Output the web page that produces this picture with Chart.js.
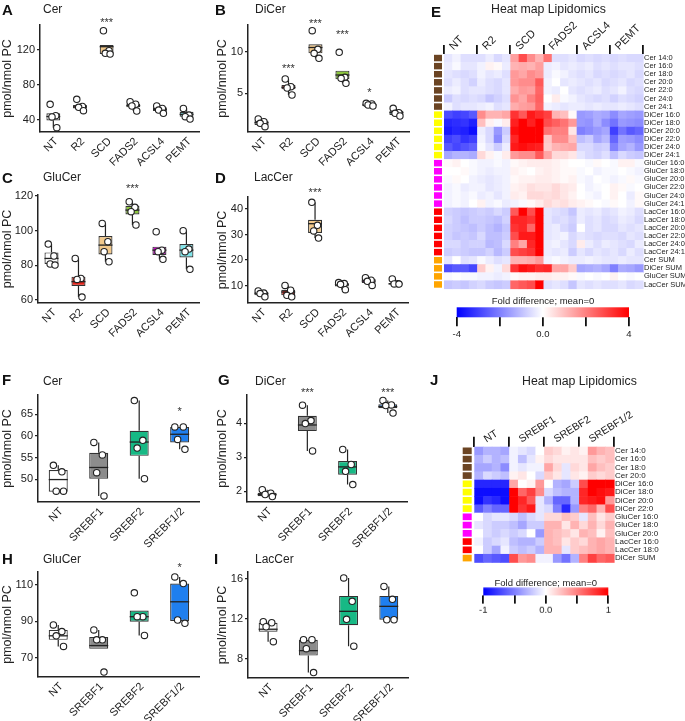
<!DOCTYPE html>
<html><head><meta charset="utf-8">
<script src="https://cdn.jsdelivr.net/npm/chart.js@4"></script>
<style>
body{margin:0;width:685px;height:721px;position:relative;background:#fff;overflow:hidden;font-family:"Liberation Sans",Arial,sans-serif;color:#222}
.t{position:absolute;white-space:nowrap;line-height:1}
.L{font-weight:bold;font-size:15px;color:#111}
.T{font-size:12px}
.H{font-size:12.3px}
.C{font-size:9.5px;transform:translateX(-50%)}
canvas{position:absolute}
</style></head><body>
<script>
// ---------------- DATA ----------------
const GROUPS_1 = ['NT','R2','SCD','FADS2','ACSL4','PEMT'];
const GROUPS_2 = ['NT','SREBF1','SREBF2','SREBF1/2'];
const Y_TITLE = 'pmol/nmol PC';
// box stats per group: [whiskerLow, q1, median, q3, whiskerHigh]
const A_BOX = [[31.2,39.5,44,47.6,47.6],[50.7,53.3,55,57.1,57.1],[115.4,115.4,123.8,125.7,125.7],[50.3,54.5,56.5,58.3,61],[47.6,50.3,52.2,54.5,56],[41.1,43.8,46.5,49.5,53.3]];
const A_PTS = [[57.9,45,43.5,31.2],[63.6,55.5,54.5,50.7],[142,119.2,116.2,115.4],[61,58,56,50.3],[56,53.3,51.4,47.6],[53.3,45.7,43.8,41.1]];
const A_SIG = ['','','***','','',''];
const A_SIG_AT = [0,0,154.3,0,0,0];
const A_TICKS = [40,80,120];
const B_BOX = [[1.0,1.2,1.48,1.72,1.92],[4.8,5.48,5.72,6.0,6.72],[9.2,9.8,10.5,10.88,10.88],[6.2,6.68,7.2,7.72,7.72],[3.48,3.45,3.6,3.78,3.8],[2.28,2.4,2.68,2.92,3.2]];
const B_PTS = [[1.92,1.6,1.4,1.0],[6.72,5.8,5.64,4.8],[12.52,10.28,9.8,9.2],[9.92,6.92,6.8,6.2],[3.8,3.72,3.6,3.48],[3.2,2.68,2.6,2.28]];
const B_SIG = ['','***','***','***','*',''];
const B_SIG_AT = [0,8.2,13.6,12.32,5.4,0];
const B_TICKS = [5,10];
const C_BOX = [[80.2,80.8,84,87.5,92.3],[61.7,68.1,70.6,73.5,84],[82.1,86.3,91.7,96.9,104.2],[103.3,109.4,111.9,114.4,116.7],[83.5,86,88.8,90.8,90.8],[77.7,84.6,88.8,92.3,100]];
const C_PTS = [[92.3,85.4,80.8,80.2],[84,72.5,71.9,61.7],[104.2,93.7,87.9,82.1],[116.7,113.5,111,103.3],[99.4,88.8,87.9,83.5],[100,89.4,87.9,77.7]];
const C_SIG = ['','','','***','',''];
const C_SIG_AT = [0,0,0,125.4,0,0];
const C_TICKS = [60,80,100,120];
const D_BOX = [[5.6,6.2,6.9,7.5,7.9],[5.6,6.2,7.5,8.4,10.1],[28.6,30.6,34.25,35.8,42.6],[8.4,9.7,10.4,11.0,11.2],[10.1,11.0,11.8,12.6,13.1],[10.6,10.5,10.65,11.0,12.6]];
const D_PTS = [[7.9,7.1,6.9,5.6],[10.1,8.2,6.2,5.6],[42.6,33.6,31.4,28.6],[11.2,10.8,10.5,8.4],[13.1,12.1,11.7,10.1],[12.6,10.7,10.65,10.6]];
const D_SIG = ['','','***','','',''];
const D_SIG_AT = [0,0,47.3,0,0,0];
const D_TICKS = [10,20,30,40];
const F_BOX = [[47.2,47.1,49.9,52.1,53.2],[46.1,50.1,52.7,56.1,58.5],[50.1,55.4,58.6,61.2,68.2],[56.9,58.5,60.4,62.1,62.1]];
const F_PTS = [[53.2,51.7,47.2,47.2],[58.5,55.6,51.5,46.1],[68.2,59,57.2,50.1],[62.1,62.1,59.2,56.9]];
const F_SIG = ['','','','*'];
const F_SIG_AT = [0,0,0,66.2];
const F_TICKS = [50,55,60,65];
const G_BOX = [[1.85,1.86,1.91,1.96,2.05],[3.19,3.77,3.95,4.22,4.53],[2.2,2.49,2.72,2.89,3.23],[4.3,4.44,4.49,4.56,4.67]];
const G_PTS = [[2.05,1.95,1.91,1.85],[4.53,4.08,3.99,3.19],[3.23,2.79,2.59,2.2],[4.67,4.54,4.52,4.3]];
const G_SIG = ['','***','','***'];
const G_SIG_AT = [0,4.97,0,4.97];
const G_TICKS = [2,3,4];
const H_BOX = [[76.3,79.9,82.1,85.3,88],[75,75,76.8,81.4,85.3],[82.3,89.8,92.5,95.8,95.8],[88.9,90.2,100.6,110.5,114.1]];
const H_PTS = [[88,84.4,82.1,76.3],[85.3,79.9,79.9,62.4],[105.5,92.5,92.5,82.3],[114.1,110.5,90.7,88.9]];
const H_SIG = ['','','','*'];
const H_SIG_AT = [0,0,0,120.1];
const H_TICKS = [70,90,110];
const I_BOX = [[9.7,10.7,10.95,11.6,11.7],[6.6,8.3,8.8,9.9,9.9],[9.25,11.35,12.75,14.3,16.1],[11.9,11.9,13.25,14.3,15.25]];
const I_PTS = [[11.7,11.6,11.2,9.7],[9.9,9.9,9.0,6.6],[16.1,13.75,11.95,9.25],[15.25,13.95,11.9,11.9]];
const I_SIG = ['','','',''];
const I_SIG_AT = [0,0,0,0];
const I_TICKS = [8,12,16];

// heat map E
const HM1_GROUPS = ['NT','R2','SCD','FADS2','ACSL4','PEMT'];
const HM1_ROWS = ['Cer 14:0','Cer 16:0','Cer 18:0','Cer 20:0','Cer 22:0','Cer 24:0','Cer 24:1',
 'DiCer 16:0','DiCer 18:0','DiCer 20:0','DiCer 22:0','DiCer 24:0','DiCer 24:1',
 'GluCer 16:0','GluCer 18:0','GluCer 20:0','GluCer 22:0','GluCer 24:0','GluCer 24:1',
 'LacCer 16:0','LacCer 18:0','LacCer 20:0','LacCer 22:0','LacCer 24:0','LacCer 24:1',
 'Cer SUM','DiCer SUM','GluCer SUM','LacCer SUM'];
const HM1_CLASS = ['Cer','Cer','Cer','Cer','Cer','Cer','Cer','DiCer','DiCer','DiCer','DiCer','DiCer','DiCer',
 'GluCer','GluCer','GluCer','GluCer','GluCer','GluCer','LacCer','LacCer','LacCer','LacCer','LacCer','LacCer','SUM','SUM','SUM','SUM'];
const HM1_VALUES = [
 [-0.4,-0.2,-0.5,-0.5, -0.5,-0.3,-0.6,-0.4, 1.5,2.8,1.8,1.2, 2.2,-0.5,-0.5,-0.4, -0.6,-0.5,-0.6,-0.5, -0.6,-0.5,-0.6,-0.6],
 [-0.3,-0.1,-0.4,-0.4, -0.2,0.2,0.1,-0.3, 1.2,1.3,1.2,1.5, -0.3,-0.2,-0.4,-0.3, -0.4,-0.3,-0.5,-0.4, -0.5,-0.4,-0.4,-0.5],
 [-0.4,-0.5,-0.6,-0.5, -0.2,-0.4,-0.3,-0.5, 1.6,1.4,1.8,1.6, -0.3,-0.1,-0.2,-0.4, -0.5,-0.4,-0.6,-0.5, -0.6,-0.5,-0.4,-0.6],
 [-0.5,-0.3,-0.5,-0.7, -0.3,-0.5,-0.6,-0.4, 1.6,1.8,1.8,2.6, -0.2,0.0,-0.4,-0.3, -0.4,-0.5,-0.4,-0.6, -0.5,-0.4,-0.6,-0.5],
 [-0.3,-0.2,-0.5,-0.4, -0.4,-0.5,-0.6,-0.4, 1.3,1.6,1.5,2.4, -0.2,-0.3,0.0,-0.4, -0.5,-0.4,-0.3,-0.5, -0.4,-0.2,-0.5,-0.6],
 [-0.8,-0.5,-0.6,-0.5, -0.6,-0.9,-0.7,-0.5, 1.7,1.4,2.0,2.5, 0.0,0.3,-0.1,-0.2, -0.4,-0.5,-0.6,-0.5, -0.7,-0.5,-0.6,-0.7],
 [-0.2,-0.5,-0.4,-0.4, -0.3,-0.2,-0.5,-0.4, 1.3,1.5,1.6,2.4, -0.2,-0.3,-0.4,-0.3, -0.3,-0.4,-0.3,-0.4, -0.4,-0.3,-0.4,-0.5],
 [-2.8,-3.0,-2.9,-2.6, 1.8,1.2,1.2,1.4, 3.2,2.6,3.6,3.3, 3.0,1.2,1.0,0.1, -1.6,-1.5,-1.3,-1.4, -1.8,-1.4,-1.5,-1.6],
 [-3.4,-3.3,-3.2,-3.5, 1.0,0.2,-0.1,0.3, 3.5,4,3.5,4, 2.8,2.5,2.2,1.6, -1.6,-1.7,-1.3,-1.8, -2.2,-1.6,-1.7,-1.8],
 [-3.6,-3.4,-3.5,-3.8, -0.3,-0.6,-1.6,-0.8, 3.8,4,4,4, 2.2,2.0,2.0,0.4, -2.0,-1.8,-1.6,-1.4, -3.0,-2.2,-2.6,-2.4],
 [-3.0,-2.8,-3.2,-3.0, -0.2,-0.6,-1.8,-0.6, 3.4,4,4,4, 0.9,1.8,1.8,1.0, -1.0,-0.8,-1.4,-1.1, -2.4,-1.5,-1.6,-1.8],
 [-2.6,-2.9,-2.7,-2.5, -0.1,-0.4,-0.8,-0.3, 3.6,3.8,3.6,3.5, 0.8,1.2,1.3,1.4, -0.6,-0.6,-0.8,-0.7, -2.0,-1.4,-1.2,-1.6],
 [-1.4,-1.2,-1.2,-1.3, 0.6,0.2,-0.1,0.3, 1.6,1.8,1.8,2.6, 1.4,0.6,0.6,0.4, -0.4,-0.6,-0.7,-0.5, -1.0,-0.6,-0.8,-0.9],
 [0.1,0.2,0.0,-0.1, -0.2,-0.2,-0.1,-0.2, 0.1,0.2,0.3,0.3, 0.3,0.2,0.1,0.0, 0.0,-0.1,0.1,0.0, -0.1,0.2,0.2,-0.1],
 [0.0,0.0,0.1,-0.1, -0.2,-0.3,-0.2,-0.2, 0.2,0.1,0.0,0.2, 0.3,0.2,0.1,0.1, -0.1,0.0,-0.2,-0.1, -0.1,0.0,-0.1,-0.2],
 [-0.1,0.1,0.0,-0.2, -0.3,-0.4,-0.3,-0.2, 0.1,0.2,0.2,0.3, 0.3,0.2,0.1,0.2, -0.1,-0.2,0.0,-0.1, -0.2,-0.1,0.1,-0.1],
 [-0.2,-0.1,-0.3,-0.2, -0.2,-0.4,-0.3,-0.2, 0.2,0.3,0.5,0.4, 0.4,0.6,0.4,0.3, 0.0,-0.2,-0.1,0.0, 0.2,0.1,-0.1,0.0],
 [-0.2,-0.1,-0.2,-0.1, -0.3,-0.2,-0.4,-0.2, 0.3,0.2,0.6,0.6, 0.5,0.6,0.4,0.2, 0.0,-0.1,-0.2,0.0, 0.2,0.0,-0.3,0.1],
 [-0.2,-0.1,-0.2,0.0, 0.2,-0.2,-0.1,-0.3, -0.2,-0.1,0.1,0.3, 0.6,0.4,0.5,0.3, 0.2,0.1,0.0,-0.1, 0.1,0.0,-0.2,0.1],
 [-0.7,-0.8,-0.9,-0.8, -0.7,-0.8,-0.6,-0.8, 2.6,4,2.8,4, -0.4,-0.5,-0.6,-0.9, -0.3,-0.4,-0.3,-0.5, -0.4,-0.2,-0.3,-0.5],
 [-0.6,-0.8,-1.0,-0.8, -0.8,-0.9,-1.0,-0.7, 3.4,3.4,3.2,4, -0.4,-0.6,-0.5,-0.7, -0.3,-0.5,-0.4,-0.6, -0.5,-0.3,-0.4,-0.6],
 [-0.7,-0.8,-0.9,-1.0, -0.8,-1.0,-1.2,-0.9, 3.2,3.4,2.4,4, -0.4,-0.3,-0.6,-0.8, 0.0,-0.5,-0.4,-0.6, -0.6,-0.4,-0.5,-0.4],
 [-0.7,-0.9,-0.8,-0.9, -0.6,-1.0,-1.0,-0.8, 2.8,3.6,3.6,4, -0.4,-0.3,-0.2,-0.6, -0.4,-0.5,-0.6,-0.5, -0.5,-0.6,-0.4,-0.5],
 [-0.6,-0.6,-0.8,-0.7, -0.7,-1.1,-1.0,-0.6, 2.0,1.4,3.4,4, -0.3,-0.2,-0.4,-0.6, 0.3,-0.3,-0.5,-0.3, -0.4,-0.5,-0.6,-0.3],
 [-0.8,-0.7,-0.8,-0.9, -0.9,-0.7,-1.1,-0.8, 2.8,3.0,3.2,4, -0.3,-0.4,-0.3,-0.8, -0.4,-0.6,-0.4,-0.5, -0.4,-0.6,-0.3,-0.5],
 [-0.4,0.0,-0.5,-0.4, -0.1,-0.3,-0.5,-0.4, 1.2,1.2,1.3,1.6, -0.2,-0.1,-0.2,-0.3, -0.3,-0.2,-0.3,-0.4, -0.4,-0.3,-0.4,-0.4],
 [-2.8,-2.6,-2.6,-2.9, 0.8,0.2,-0.2,0.6, 3.2,3.8,3.6,3.3, 3.4,1.4,1.4,0.8, -1.4,-1.3,-1.2,-1.4, -2.0,-1.3,-1.4,-1.6],
 [-0.1,0.0,-0.1,-0.1, -0.2,-0.2,-0.3,-0.2, 0.1,0.2,0.2,0.3, 0.3,0.2,0.2,0.1, -0.1,0.0,-0.1,0.0, 0.2,0.0,-0.1,0.0],
 [-0.9,-0.8,-0.9,-0.7, -0.6,-0.8,-0.9,-0.8, 2.4,2.6,2.8,4, -0.5,-0.4,-0.5,-0.9, -0.4,-0.5,-0.4,-0.5, -0.5,-0.4,-0.6,-0.5]
];
const HM1_RANGE = 4;
const CB1_TICKS = [-4,-2,0,2,4];
const CB1_LABELS = ['-4','','0.0','','4'];

// heat map J
const HM2_GROUPS = ['NT','SREBF1','SREBF2','SREBF1/2'];
const HM2_ROWS = ['Cer 14:0','Cer 16:0','Cer 18:0','Cer 20:0','DiCer 16:0','DiCer 18:0','DiCer 20:0','DiCer 22:0',
 'GluCer 16:0','GluCer 18:0','GluCer 20:0','LacCer 16:0','LacCer 18:0','DiCer SUM'];
const HM2_CLASS = ['Cer','Cer','Cer','Cer','DiCer','DiCer','DiCer','DiCer','GluCer','GluCer','GluCer','LacCer','LacCer','SUM'];
const HM2_VALUES = [
 [-0.4,-0.3,-0.3,-0.35, -0.05,-0.1,-0.15,0.0, 0.2,0.15,0.05,0.1, 0.05,0.4,0.3,0.25],
 [-0.3,-0.2,-0.3,-0.25, -0.05,-0.25,-0.1,0.05, 0.15,0.1,0.1,0.1, 0.1,0.25,0.2,0.25],
 [-0.35,-0.35,-0.3,-0.45, -0.05,-0.1,-0.05,-0.05, 0.35,0.15,-0.1,0.15, 0.1,0.35,0.25,0.2],
 [-0.3,-0.15,-0.2,-0.25, 0.05,0.1,0.0,-0.15, 0.2,0.1,-0.1,0.1, 0.05,0.2,0.15,0.2],
 [-0.85,-0.85,-0.85,-0.85, 0.35,0.0,0.05,0.4, 0.0,-0.3,-0.35,-0.2, 0.7,1,1,1],
 [-0.95,-0.95,-0.95,-0.95, 1,0.6,0.75,0.45, -0.15,-0.25,-0.3,-0.3, 0.85,1,0.95,0.9],
 [-0.95,-0.8,-0.85,-0.95, 1,0.85,0.65,-0.1, -0.3,-0.6,-0.6,-0.3, 0.85,0.9,0.95,0.4],
 [-0.65,-0.5,-0.6,-0.6, 1,0.8,0.9,-0.1, -0.15,-0.5,-0.85,-0.4, 0.5,0.6,0.3,0.7],
 [0.0,-0.15,-0.1,-0.1, -0.15,-0.25,-0.15,-0.1, 0.15,0.15,0.25,0.2, -0.1,0.25,0.1,0.2],
 [-0.1,-0.15,-0.2,-0.2, -0.25,-0.35,-0.2,-0.2, 0.3,0.3,0.1,0.3, 0.15,0.3,0.15,0.3],
 [0.0,-0.15,-0.2,-0.15, -0.2,-0.15,0.0,-0.4, 0.3,0.25,0.2,0.1, 0.3,0.25,0.05,0.25],
 [-0.05,-0.2,-0.15,-0.1, -0.25,-0.3,-0.3,-0.2, 0.3,0.25,0.1,0.2, 0.15,0.3,0.35,0.3],
 [0.0,-0.2,-0.35,-0.05, -0.2,-0.25,-0.2,-0.3, 0.3,0.3,-0.1,0.2, 0.25,0.3,0.35,0.3],
 [-0.7,-0.6,-0.65,-0.7, 0.7,0.4,0.45,-0.05, -0.05,-0.4,-0.55,-0.3, 0.5,0.75,0.6,0.65]
];
const HM2_RANGE = 1;
const CB2_TICKS = [-1,-0.5,0,0.5,1];
const CB2_LABELS = ['-1','','0.0','','1'];

// ---------------- STYLE ----------------
const COLORS_1 = ['#ffffff','#e8261c','#f2c98b','#8cc63e','#cc00cc','#7fe5ea'];
const COLORS_2 = ['#ffffff','#8c8c8c','#17b985','#1f7fef'];
const CLASS_COLORS = {Cer:'#6b4423', DiCer:'#ffff00', GluCer:'#ff00ff', LacCer:'#ff0000', SUM:'#ffa500'};
const JITTER = [-0.12, 0.09, -0.05, 0.13];
const FONT = '"Liberation Sans", Arial, sans-serif';
Chart.defaults.font.family = FONT;
Chart.defaults.color = '#222';

function makeCanvas(L,T,W,H){
  const c = document.createElement('canvas');
  c.width = W; c.height = H;
  c.style.left = L+'px'; c.style.top = T+'px'; c.style.width = W+'px'; c.style.height = H+'px';
  document.body.appendChild(c); return c;
}
function text(str, cls, left, top){
  const d = document.createElement('div'); d.className = 't '+cls; d.textContent = str;
  d.style.left = left+'px'; d.style.top = top+'px'; document.body.appendChild(d);
}

function boxPlugin(d){
  return {
    id:'boxdecor',
    afterDatasetDraw(chart, args){
      if (args.index !== 0) return;
      const ctx = chart.ctx, y = chart.scales.y, meta = chart.getDatasetMeta(0);
      const py = v => y.getPixelForValue(v);
      ctx.save(); ctx.strokeStyle = '#222';
      meta.data.forEach((bar,i)=>{
        const b = d.box[i], cx = bar.x, hw = bar.width/2;
        ctx.lineWidth = 1.2; ctx.beginPath();
        ctx.moveTo(cx, py(b[3])); ctx.lineTo(cx, py(b[4]));
        ctx.moveTo(cx, py(b[1])); ctx.lineTo(cx, py(b[0]));
        ctx.stroke();
        ctx.lineWidth = 1.3; ctx.beginPath();
        ctx.moveTo(cx-hw, py(b[2])); ctx.lineTo(cx+hw, py(b[2])); ctx.stroke();
      });
      ctx.restore();
    },
    afterDraw(chart){
      const ctx = chart.ctx, y = chart.scales.y, meta = chart.getDatasetMeta(0);
      ctx.save(); ctx.fillStyle = '#333'; ctx.font = '11px '+FONT; ctx.textAlign = 'center'; ctx.textBaseline = 'middle';
      meta.data.forEach((bar,i)=>{ if (d.sig[i]) ctx.fillText(d.sig[i], bar.x, y.getPixelForValue(d.sigAt[i]) + 2.5); });
      ctx.restore();
    }
  };
}

function boxPanel(g, d){
  const n = d.labels.length;
  const cv = makeCanvas(g.L, g.T, g.W, g.H);
  const pts = [];
  d.pts.forEach((arr,i)=>arr.forEach((v,j)=>pts.push({x:i+JITTER[j], y:v})));
  new Chart(cv, {
    type:'bar',
    data:{datasets:[
      {type:'bar', data:d.box.map((b,i)=>({x:i, y:[b[1],b[3]]})), backgroundColor:d.colors, borderColor:'#333', borderWidth:1.2,
       borderSkipped:false, grouped:false, barPercentage:g.bw, categoryPercentage:1, order:2},
      {type:'scatter', data:pts, pointRadius:3.2, pointBackgroundColor:'#fff',
       pointBorderColor:'#222', pointBorderWidth:1.1, order:1}
    ]},
    options:{
      responsive:false, animation:false, events:[],
      layout:{padding:{left:0, right:g.pr, top:g.pt, bottom:0}},
      plugins:{legend:{display:false}, tooltip:{enabled:false}},
      scales:{
        x:{type:'linear', min:-0.5, max:n-0.5, offset:false,
           afterBuildTicks(s){ s.ticks = d.labels.map((l,i)=>({value:i})); },
           grid:{display:false, drawTicks:false},
           border:{display:true, color:'#222', width:1.5},
           ticks:{autoSkip:false, minRotation:45, maxRotation:45, padding:3, labelOffset:3, font:{size:11}, color:'#222',
                  callback:(v)=>d.labels[Math.round(v)]},
           afterFit(s){ s.height = g.xh; }},
        y:{type:'linear', min:d.min, max:d.max,
           afterBuildTicks(s){ s.ticks = d.ticks.map(v=>({value:v})); },
           grid:{display:true, drawOnChartArea:false, drawTicks:true, tickLength:3, color:'#222', lineWidth:1.2},
           border:{display:true, color:'#222', width:1.5},
           ticks:{padding:2, font:{size:11}, color:'#222'},
           title:{display:true, text:Y_TITLE, font:{size:12.5}, color:'#222', padding:{top:0, bottom:0}},
           afterFit(s){ s.width = g.yw; }}
      }
    },
    plugins:[boxPlugin(d)]
  });
}

function heatColor(v, m){
  const t = Math.max(-1, Math.min(1, v/m));
  if (t < 0){ const c = Math.round(255*(1+t)); return `rgb(${c},${c},255)`; }
  const c = Math.round(255*(1-t)); return `rgb(255,${c},${c})`;
}
function heatPlugin(d, g){
  return {
    id:'heat',
    beforeDatasetsDraw(chart){
      const {ctx, chartArea:a, scales:{x, y}} = chart;
      const band = a.height / d.rows.length;
      d.values.forEach((row,r)=>{
        const yc = y.getPixelForValue(r);
        row.forEach((v,c)=>{
          const x0 = x.getPixelForValue(c), x1 = x.getPixelForValue(c+1);
          ctx.fillStyle = heatColor(v, d.range);
          ctx.fillRect(x0, yc-band/2, x1-x0+0.6, band+0.6);
        });
        ctx.fillStyle = CLASS_COLORS[d.cls[r]];
        ctx.fillRect(a.left - g.sqOff, yc - band/2 + 0.8, g.sqW, band - 1.6);
      });
    }
  };
}
function heatPanel(g, d){
  const cv = makeCanvas(g.L, g.T, g.W, g.H);
  new Chart(cv, {type:'scatter', data:{datasets:[]}, options:{
    responsive:false, animation:false, events:[],
    layout:{padding:{left:g.pl, right:0, top:g.pt, bottom:0}},
    plugins:{legend:{display:false}, tooltip:{enabled:false}},
    scales:{
      x:{type:'linear', display:false, min:0, max:d.values[0].length},
      x2:{type:'category', labels:d.groups, position:'top', offset:true,
          grid:{display:true, offset:true, drawOnChartArea:false, drawTicks:true, tickLength:g.tl, color:'#111', lineWidth:1.8},
          border:{display:false},
          ticks:{autoSkip:false, minRotation:g.rot, maxRotation:g.rot, padding:g.lp, font:{size:g.gf}, color:'#222'},
          afterFit(s){ s.height = g.xh; }},
      y:{type:'category', labels:d.rows, position:'right', offset:true,
         grid:{display:false, drawTicks:false}, border:{display:false},
         ticks:{autoSkip:false, padding:1, font:{size:g.rf}, color:'#222'},
         afterFit(s){ s.width = g.yw; }}
    }}, plugins:[heatPlugin(d, g)]});
}
function colorbar(g, d){
  const cv = makeCanvas(g.L, g.T, g.W, g.H);
  new Chart(cv, {type:'scatter', data:{datasets:[]}, options:{
    responsive:false, animation:false, events:[],
    layout:{padding:{left:g.pl, right:g.pr, top:g.pt, bottom:0}},
    plugins:{legend:{display:false}, tooltip:{enabled:false}},
    scales:{
      x:{type:'linear', min:d.ticks[0], max:d.ticks[d.ticks.length-1],
         afterBuildTicks(s){ s.ticks = d.ticks.map(v=>({value:v})); },
         grid:{display:true, drawOnChartArea:false, drawTicks:true, tickLength:g.tl, color:'#111', lineWidth:1.8},
         border:{display:false},
         ticks:{autoSkip:false, maxRotation:0, padding:g.lp, font:{size:g.f}, color:'#222', callback:(v,i)=>d.labels[i]},
         afterFit(s){ s.height = g.xh; }},
      y:{display:false, min:0, max:1}
    }}, plugins:[{id:'grad', beforeDatasetsDraw(chart){
      const {ctx, chartArea:a, scales:{x}} = chart;
      const x0 = x.getPixelForValue(d.ticks[0]), x1 = x.getPixelForValue(d.ticks[d.ticks.length-1]);
      const gr = ctx.createLinearGradient(x0,0,x1,0);
      gr.addColorStop(0,'#0000ff'); gr.addColorStop(0.5,'#ffffff'); gr.addColorStop(1,'#ff0000');
      ctx.fillStyle = gr; ctx.fillRect(x0, a.top, x1-x0, a.bottom-a.top);
    }}]});
}

// ---------------- BUILD ----------------
boxPanel({L:0,T:0,W:205,H:182,yw:40,pr:5,pt:25,xh:50,bw:0.52},
  {labels:GROUPS_1, box:A_BOX, pts:A_PTS, sig:A_SIG, sigAt:A_SIG_AT, ticks:A_TICKS, min:26.3, max:148.6, colors:COLORS_1});
boxPanel({L:215,T:0,W:200,H:182,yw:33,pr:5,pt:25,xh:50,bw:0.52},
  {labels:GROUPS_1, box:B_BOX, pts:B_PTS, sig:B_SIG, sigAt:B_SIG_AT, ticks:B_TICKS, min:0.36, max:13.2, colors:COLORS_1});
boxPanel({L:0,T:170,W:205,H:183,yw:38,pr:5,pt:25,xh:50,bw:0.52},
  {labels:GROUPS_1, box:C_BOX, pts:C_PTS, sig:C_SIG, sigAt:C_SIG_AT, ticks:C_TICKS, min:58.3, max:120.6, colors:COLORS_1});
boxPanel({L:215,T:170,W:199,H:183,yw:33,pr:5,pt:27,xh:50,bw:0.52},
  {labels:GROUPS_1, box:D_BOX, pts:D_PTS, sig:D_SIG, sigAt:D_SIG_AT, ticks:D_TICKS, min:3.2, max:44.7, colors:COLORS_1});
boxPanel({L:0,T:380,W:205,H:178,yw:38,pr:5,pt:15,xh:56,bw:0.47},
  {labels:GROUPS_2, box:F_BOX, pts:F_PTS, sig:F_SIG, sigAt:F_SIG_AT, ticks:F_TICKS, min:44.7, max:69.5, colors:COLORS_2});
boxPanel({L:215,T:380,W:198,H:178,yw:32,pr:5,pt:15,xh:56,bw:0.47},
  {labels:GROUPS_2, box:G_BOX, pts:G_PTS, sig:G_SIG, sigAt:G_SIG_AT, ticks:G_TICKS, min:1.69, max:4.83, colors:COLORS_2});
boxPanel({L:0,T:550,W:205,H:171,yw:38,pr:5,pt:22,xh:44,bw:0.47},
  {labels:GROUPS_2, box:H_BOX, pts:H_PTS, sig:H_SIG, sigAt:H_SIG_AT, ticks:H_TICKS, min:59.7, max:116.8, colors:COLORS_2});
boxPanel({L:215,T:550,W:199,H:171,yw:33,pr:5,pt:22,xh:43,bw:0.47},
  {labels:GROUPS_2, box:I_BOX, pts:I_PTS, sig:I_SIG, sigAt:I_SIG_AT, ticks:I_TICKS, min:6.05, max:16.7, colors:COLORS_2});

heatPanel({L:430,T:0,W:255,H:294,pl:14,pt:20,xh:34,yw:42,tl:9,lp:-8,gf:11,rf:7.5,sqOff:10,sqW:8,rot:45},
  {groups:HM1_GROUPS, rows:HM1_ROWS, cls:HM1_CLASS, values:HM1_VALUES, range:HM1_RANGE});
colorbar({L:440,T:300,W:210,H:45,pl:16.7,pr:21,pt:7.3,xh:27.7,tl:9,lp:2,f:9.5},
  {ticks:CB1_TICKS, labels:CB1_LABELS});
heatPanel({L:440,T:400,W:245,H:168.3,pl:34.3,pt:10,xh:36.7,yw:71,tl:10,lp:-9,gf:10.5,rf:8,sqOff:11.6,sqW:9,rot:32},
  {groups:HM2_GROUPS, rows:HM2_ROWS, cls:HM2_CLASS, values:HM2_VALUES, range:HM2_RANGE});
colorbar({L:460,T:580,W:170,H:37.7,pl:23.3,pr:21.7,pt:7.3,xh:22,tl:8,lp:1,f:9.5},
  {ticks:CB2_TICKS, labels:CB2_LABELS});

// ---------------- TEXT ----------------
text('A','L',2,2);   text('Cer','T',43,3.4);
text('B','L',215,2); text('DiCer','T',255,3.4);
text('C','L',2,169.7); text('GluCer','T',43,171);
text('D','L',215,169.7); text('LacCer','T',254,171);
text('E','L',431,4); text('Heat map Lipidomics','H',491,2.5);
text('Fold difference; mean=0','C',543,295.5);
text('F','L',2,372); text('Cer','T',43,375);
text('G','L',218,372); text('DiCer','T',255,375);
text('H','L',2,551.3); text('GluCer','T',43,553.4);
text('I','L',214,551.3); text('LacCer','T',255,553.4);
text('J','L',430,372); text('Heat map Lipidomics','H',522,375);
text('Fold difference; mean=0','C',545.8,577.5);
</script>
</body></html>
